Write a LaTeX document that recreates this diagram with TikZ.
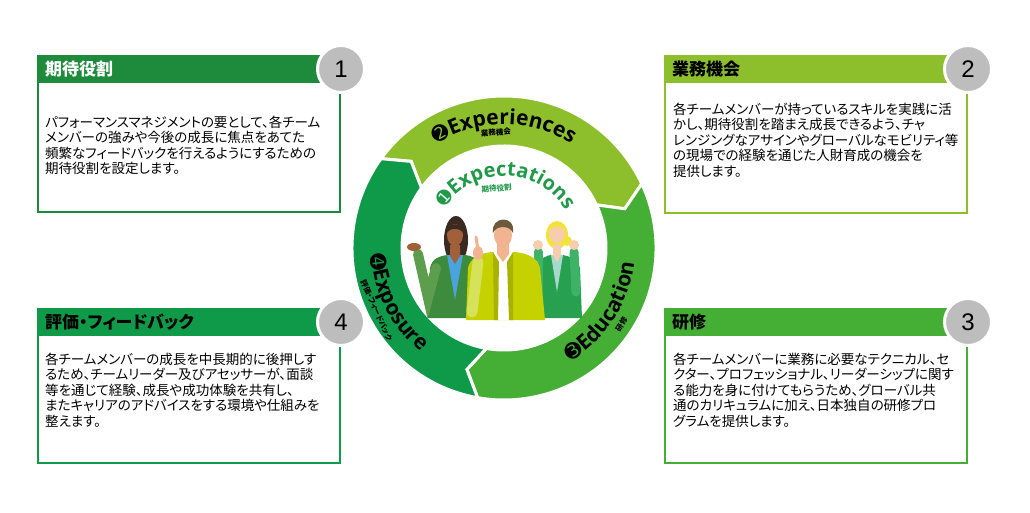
\documentclass[tikz,border=0pt]{standalone}
\usepackage{fontspec}
\setmainfont{Liberation Sans}
\newfontfamily\jpfont[RawFeature=+palt]{Noto Sans CJK JP}
\newfontfamily\ringfont{Open Sans}
\newfontfamily\digfont{DejaVu Sans}
\usetikzlibrary{decorations.text}

\definecolor{darkgrn}{HTML}{1E8B3C}
\definecolor{limegrn}{HTML}{8DBF2D}
\definecolor{midgrn}{HTML}{45AE35}
\definecolor{deepgrn}{HTML}{0E9A48}
\definecolor{expgrn}{HTML}{1F9A48}
\definecolor{badgegray}{HTML}{BDBDBD}
\definecolor{skinA}{HTML}{A0603A}
\definecolor{hairA}{HTML}{3B2A22}
\definecolor{jacketA}{HTML}{3D8B3D}
\definecolor{armA}{HTML}{5C9E4E}
\definecolor{shirtA}{HTML}{4BA3DD}
\definecolor{skinB}{HTML}{F2B490}
\definecolor{hairB}{HTML}{6B5A3C}
\definecolor{jacketB}{HTML}{C6D200}
\definecolor{armB}{HTML}{D6E25A}
\definecolor{skinC}{HTML}{F7CDB0}
\definecolor{hairC}{HTML}{F2E23A}
\definecolor{jacketC}{HTML}{27A150}
\definecolor{armC}{HTML}{3DB368}
\definecolor{shirtC}{HTML}{A8D8CC}

\tikzset{
	boxframe/.style={draw, line width=2pt, anchor=north west, minimum width=302pt, inner sep=0pt},
	header/.style={anchor=north west, minimum height=28pt, text width=286pt, inner xsep=8pt, inner ysep=0pt, align=left, font=\jpfont\bfseries\fontsize{17}{17}\selectfont},
	bodytext/.style={anchor=north west, inner sep=0pt, align=left, font=\jpfont\fontsize{13.5}{15.5}\selectfont},
	badge/.style={circle, fill=badgegray, draw=white, line width=3pt, minimum size=47pt, inner sep=0pt, font=\fontsize{24}{24}\selectfont},
	ringlabel/.style={font=\jpfont\bfseries\fontsize{7.5}{7.5}\selectfont, inner sep=0pt},
}

\begin{document}
\begin{tikzpicture}[x=1pt, y=1pt]
	\useasboundingbox (0,0) rectangle (1030,-512);

	% boxes
	\node[boxframe, draw=darkgrn, minimum height=156pt] (box1) at (37,-55) {};
	\node[boxframe, draw=limegrn, minimum height=157pt] (box2) at (664,-55) {};
	\node[boxframe, draw=midgrn, minimum height=154pt] (box3) at (664,-308) {};
	\node[boxframe, draw=deepgrn, minimum height=154pt] (box4) at (37,-308) {};

	\node[header, fill=darkgrn, text=white] (head1) at (box1.north west) {期待役割};
	\node[header, fill=limegrn] (head2) at (box2.north west) {業務機会};
	\node[header, fill=midgrn] (head3) at (box3.north west) {研修};
	\node[header, fill=deepgrn] (head4) at (box4.north west) {評価・フィードバック};

	\node[bodytext] (text1) at ([xshift=8pt, yshift=-32pt]head1.south west) {パフォーマンスマネジメントの要として、各チーム\\メンバーの強みや今後の成長に焦点をあてた\\頻繁なフィードバックを行えるようにするための\\期待役割を設定します。};
	\node[bodytext] (text2) at ([xshift=9pt, yshift=-19pt]head2.south west) {各チームメンバーが持っているスキルを実践に活\\かし、期待役割を踏まえ成長できるよう、チャ\\レンジングなアサインやグローバルなモビリティ等\\の現場での経験を通じた人財育成の機会を\\提供します。};
	\node[bodytext] (text3) at ([xshift=9pt, yshift=-16pt]head3.south west) {各チームメンバーに業務に必要なテクニカル、セ\\クター、プロフェッショナル、リーダーシップに関す\\る能力を身に付けてもらうため、グローバル共\\通のカリキュラムに加え、日本独自の研修プロ\\グラムを提供します。};
	\node[bodytext] (text4) at ([xshift=8pt, yshift=-16pt]head4.south west) {各チームメンバーの成長を中長期的に後押しす\\るため、チームリーダー及びアセッサーが、面談\\等を通じて経験、成長や成功体験を共有し、\\またキャリアのアドバイスをする環境や仕組みを\\整えます。};

	\node[badge] (badge1) at ([yshift=-14pt]box1.north east) {1};
	\node[badge] (badge2) at ([yshift=-14pt]box2.north east) {2};
	\node[badge] (badge3) at ([yshift=-14pt]box3.north east) {3};
	\node[badge] (badge4) at ([yshift=-14pt]box4.north east) {4};

	% ring
	\begin{scope}[shift={(504,-248)}]
		\foreach \s/\e/\c in {144/25/limegrn, 25/-100/midgrn, 260/144/deepgrn}
			\filldraw[fill=\c, draw=white, line width=3pt] (\s:152) arc[start angle=\s, end angle=\e, radius=152] -- (\e-7:127) -- (\e:102) arc[start angle=\e, end angle=\s, radius=102] -- (\s-7:127) -- cycle;

		\path[decorate, decoration={text along path, text align=center, text color=black,
			text={|\digfont\bfseries\fontsize{20}{20}\selectfont|➋|\ringfont\bfseries\fontsize{21}{21}\selectfont|Experiences}}]
			(130:124) arc[start angle=130, end angle=50, radius=124];
		\path[decorate, decoration={text along path, text align=center, text color=black,
			text={|\digfont\bfseries\fontsize{20}{20}\selectfont|➌|\ringfont\bfseries\fontsize{21}{21}\selectfont|Education}}]
			(-73:131) arc[start angle=-73, end angle=7, radius=131];
		\path[decorate, decoration={text along path, text align=center, text color=black,
			text={|\digfont\bfseries\fontsize{20}{20}\selectfont|➍|\ringfont\bfseries\fontsize{21}{21}\selectfont|Exposure}}]
			(165:133) arc[start angle=165, end angle=249, radius=133];
		\path[decorate, decoration={text along path, text align=center, text color=expgrn,
			text={|\digfont\bfseries\fontsize{18}{18}\selectfont|➊|\ringfont\bfseries\fontsize{20}{20}\selectfont|Expectations}}]
			(150:72) arc[start angle=150, end angle=27, radius=72];

		\node[ringlabel, rotate=4] (lbl2) at (94:116) {業務機会};
		\node[ringlabel, rotate=58] (lbl3) at (-33:140) {研修};
		\node[ringlabel, rotate=-66] (lbl4) at (206:142) {評価・フィードバック};
		\node[ringlabel, text=expgrn, rotate=5] (lbl1) at (97:60) {期待役割};
	\end{scope}

	% left woman
	\fill[hairA] (456,-240) ellipse[x radius=12, y radius=24];
	\fill[jacketA] (428,-318) -- (430,-268) .. controls (432,-258) and (440,-256) .. (447,-255) -- (465,-255) .. controls (475,-256) and (482,-262) .. (483,-270) -- (486,-318) -- cycle;
	\fill[shirtA] (447,-255) -- (463,-255) -- (455,-300) -- cycle;
	\fill[skinA] (450,-245) -- (460,-245) -- (460,-256) -- (455,-264) -- (450,-256) -- cycle;
	\fill[skinA] (455,-235) ellipse[x radius=8, y radius=11];
	\fill[hairA] (446,-234) .. controls (446,-221) and (464,-221) .. (464,-234) .. controls (460,-227) and (450,-227) .. cycle;
	\draw[armA, line width=10pt, line cap=round] (436,-268) -- (428,-298) -- (418,-254);
	\fill[skinA] (414,-247) ellipse[x radius=7, y radius=4];

	% right woman
	\fill[hairC] (557,-235) ellipse[x radius=11, y radius=14];
	\fill[hairC] (567,-241) circle[radius=5];
	\fill[jacketC] (535,-318) -- (536,-266) .. controls (540,-258) and (548,-255) .. (551,-255) -- (563,-255) .. controls (570,-256) and (577,-260) .. (580,-268) -- (582,-318) -- cycle;
	\fill[shirtC] (551,-255) -- (563,-255) -- (557,-292) -- cycle;
	\fill[skinC] (553,-244) -- (561,-244) -- (561,-255) -- (557,-262) -- (553,-255) -- cycle;
	\fill[skinC] (557,-233) ellipse[x radius=8, y radius=10];
	\fill[hairC] (548,-232) .. controls (547,-219) and (567,-219) .. (566,-232) .. controls (562,-225) and (552,-225) .. cycle;
	\draw[armC, line width=9pt, line cap=round] (538,-292) -- (538,-252);
	\draw[armC, line width=9pt, line cap=round] (576,-292) -- (574,-252);
	\fill[skinC] (538,-245) circle[radius=5];
	\fill[skinC] (574,-245) circle[radius=5];

	% center man
	\fill[jacketB] (466,-320) -- (468,-268) .. controls (470,-258) and (480,-253) .. (492,-252) -- (514,-252) .. controls (528,-253) and (538,-258) .. (540,-268) -- (545,-320) -- cycle;
	\fill[white] (493,-252) -- (513,-252) -- (509,-320) -- (498,-320) -- cycle;
	\fill[jacketB!85!black] (493,-252) -- (499,-262) -- (498,-320) -- (494,-320) -- cycle;
	\fill[jacketB!85!black] (513,-252) -- (507,-262) -- (509,-320) -- (513,-320) -- cycle;
	\fill[skinB] (497,-244) -- (509,-244) -- (509,-254) -- (503,-262) -- (497,-254) -- cycle;
	\fill[skinB] (503,-235) ellipse[x radius=9, y radius=12];
	\fill[hairB] (493,-233) .. controls (490,-216) and (516,-214) .. (513,-233) .. controls (510,-225) and (496,-225) .. cycle;
	\draw[armB, line width=11pt, line cap=round] (472,-312) -- (478,-262);
	\fill[skinB] (478,-253) ellipse[x radius=5, y radius=7];
	\draw[skinB, line width=3pt, line cap=round] (478,-250) -- (476,-237);
\end{tikzpicture}
\end{document}
